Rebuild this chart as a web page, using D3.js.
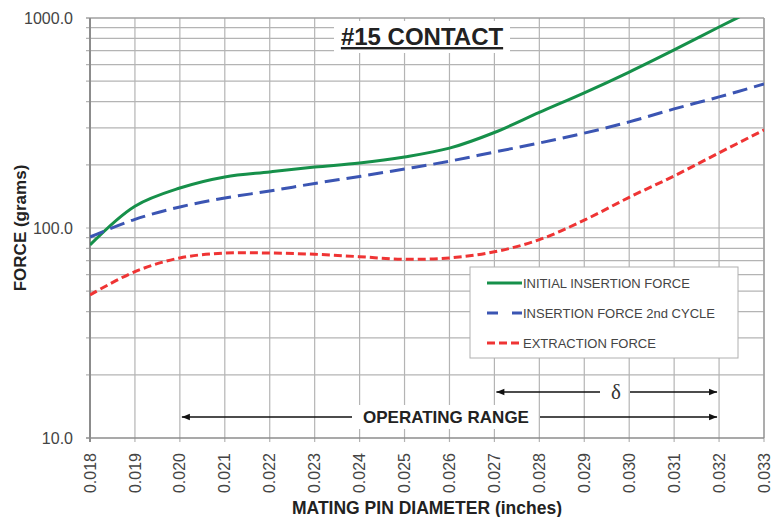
<!DOCTYPE html>
<html>
<head>
<meta charset="utf-8">
<script src="https://cdn.jsdelivr.net/npm/d3@7"></script>
<style>
  body { margin: 0; background: #fff; }
  svg { display: block; font-family: 'Liberation Sans', Arial, sans-serif; }
</style>
</head>
<body>
<svg id="chart" width="780" height="517"></svg>
<script>
// Pin diameters (inches)
const diameters = [0.018, 0.019, 0.020, 0.021, 0.022, 0.023, 0.024, 0.025, 0.026, 0.027, 0.028, 0.029, 0.030, 0.031, 0.032, 0.033];
// Forces (grams)
const initialInsertion = [83, 127, 155, 175, 185, 195, 204, 218, 240, 285, 355, 440, 553, 705, 906, 1160];
const insertion2nd     = [90.6, 110, 126, 139, 150, 163, 176, 191, 208, 230, 254, 283, 320, 369, 421, 485];
const extraction       = [48, 62, 72, 76, 76, 75, 73, 71, 72, 77, 88, 109, 140, 177, 228, 293];

const yTickValues = [10, 100, 1000];
const xTickValues = d3.range(18, 34).map(d => d / 1000);
const operatingRange = [0.020, 0.032];
const deltaRange = [0.027, 0.032];

const series = [
  { name: 'INITIAL INSERTION FORCE', values: initialInsertion, color: '#16904a', dash: null, legendDash: null },
  { name: 'INSERTION FORCE 2nd CYCLE', values: insertion2nd, color: '#3b55b3', dash: '15,7', legendDash: '11,14' },
  { name: 'EXTRACTION FORCE', values: extraction, color: '#ef3434', dash: '8,4', legendDash: '8,4' }
];

const svg = d3.select('#chart');
const W = 780, H = 517;
const margin = { top: 18, right: 16, bottom: 79, left: 90 };
const iw = W - margin.left - margin.right, ih = H - margin.top - margin.bottom;

const x = d3.scaleLinear().domain([0.018, 0.033]).range([0, iw]);
const y = d3.scaleLog().domain([10, 1000]).range([ih, 0]);

const g = svg.append('g').attr('transform', `translate(${margin.left},${margin.top})`);

svg.append('defs').append('clipPath').attr('id', 'plot-clip')
  .append('rect').attr('width', iw).attr('height', ih);

// Gridlines — every decade step on y, every 0.001 on x
const yGrid = [];
[10, 100].forEach(dec => { for (let k = 2; k <= 9; k++) yGrid.push(dec * k); });
yGrid.push(100);

g.append('g').selectAll('line').data(yGrid).enter().append('line')
  .attr('x1', -4).attr('x2', iw)
  .attr('y1', d => y(d)).attr('y2', d => y(d))
  .attr('stroke', '#b4b4b4').attr('stroke-width', 1.2);

g.append('g').selectAll('line').data(xTickValues).enter().append('line')
  .attr('x1', d => x(d)).attr('x2', d => x(d))
  .attr('y1', 0).attr('y2', ih + 4)
  .attr('stroke', '#b4b4b4').attr('stroke-width', 1.2);

// Frame: top / right light, left / bottom darker
g.append('line').attr('x1', -4).attr('x2', iw).attr('y1', 0).attr('y2', 0)
  .attr('stroke', '#a0a0a0').attr('stroke-width', 1.5);
g.append('line').attr('x1', iw).attr('x2', iw).attr('y1', 0).attr('y2', ih)
  .attr('stroke', '#a0a0a0').attr('stroke-width', 1.5);
g.append('line').attr('x1', -4).attr('x2', iw).attr('y1', ih).attr('y2', ih)
  .attr('stroke', '#8c8c8c').attr('stroke-width', 1.5);
g.append('line').attr('x1', 0).attr('x2', 0).attr('y1', 0).attr('y2', ih + 4)
  .attr('stroke', '#8c8c8c').attr('stroke-width', 2);

// Title with white backing
const titleX = 422, titleY = 45;
g.append('rect').attr('x', titleX - margin.left - 88).attr('y', 3).attr('width', 176).attr('height', 32)
  .attr('fill', '#fff');
svg.append('text').attr('x', titleX).attr('y', titleY)
  .attr('text-anchor', 'middle').attr('font-size', 24).attr('font-weight', 'bold')
  .attr('fill', '#222').attr('text-decoration', 'underline')
  .text('#15 CONTACT');

// Axis labels
svg.append('g').selectAll('text').data(yTickValues).enter().append('text')
  .attr('x', margin.left - 17).attr('y', d => margin.top + y(d))
  .attr('dy', '0.35em').attr('text-anchor', 'end')
  .attr('font-size', 16).attr('fill', '#444')
  .text(d => d3.format('.1f')(d));

svg.append('g').selectAll('text').data(xTickValues).enter().append('text')
  .attr('transform', d => `translate(${margin.left + x(d)},${margin.top + ih + 15}) rotate(-90)`)
  .attr('dy', '0.35em').attr('text-anchor', 'end')
  .attr('font-size', 16).attr('fill', '#444')
  .text(d => d3.format('.3f')(d));

svg.append('text')
  .attr('transform', `translate(26,${margin.top + y(100)}) rotate(-90)`)
  .attr('text-anchor', 'middle').attr('font-size', 17).attr('font-weight', 'bold').attr('fill', '#222')
  .text('FORCE (grams)');

svg.append('text').attr('x', 427).attr('y', 514)
  .attr('text-anchor', 'middle').attr('font-size', 17.5).attr('font-weight', 'bold').attr('fill', '#222')
  .text('MATING PIN DIAMETER (inches)');

// Curves
const line = d3.line()
  .x((d, i) => x(diameters[i]))
  .y(d => y(d))
  .curve(d3.curveCatmullRom.alpha(0.5));

const curves = g.append('g').attr('clip-path', 'url(#plot-clip)');
series.forEach(s => {
  curves.append('path').datum(s.values)
    .attr('d', line)
    .attr('fill', 'none')
    .attr('stroke', s.color)
    .attr('stroke-width', 3)
    .attr('stroke-dasharray', s.dash);
});

// Legend
const lg = svg.append('g').attr('transform', 'translate(470,267)');
lg.append('rect').attr('width', 268).attr('height', 91)
  .attr('fill', '#fff').attr('stroke', '#b0b0b0').attr('stroke-width', 1);
series.forEach((s, i) => {
  const ly = 16 + i * 30;
  lg.append('line').attr('x1', 17).attr('x2', 52).attr('y1', ly).attr('y2', ly)
    .attr('stroke', s.color).attr('stroke-width', 3)
    .attr('stroke-dasharray', s.legendDash);
  lg.append('text').attr('x', 53).attr('y', ly).attr('dy', '0.35em')
    .attr('font-size', 13).attr('fill', '#444').text(s.name);
});

// Range arrows
const defs = svg.select('defs');
defs.append('marker').attr('id', 'arrowhead')
  .attr('viewBox', '0 -5 10 10').attr('refX', 10).attr('refY', 0)
  .attr('markerWidth', 10).attr('markerHeight', 8).attr('markerUnits', 'userSpaceOnUse')
  .attr('orient', 'auto-start-reverse')
  .append('path').attr('d', 'M0,-4L10,0L0,4Z').attr('fill', '#111');

function rangeArrow(range, yPix, gapL, gapR) {
  const x0 = x(range[0]) + 2, x1 = x(range[1]) - 2;
  g.append('line').attr('x1', gapL).attr('x2', x0).attr('y1', yPix).attr('y2', yPix)
    .attr('stroke', '#111').attr('stroke-width', 1.5).attr('marker-end', 'url(#arrowhead)');
  g.append('line').attr('x1', gapR).attr('x2', x1).attr('y1', yPix).attr('y2', yPix)
    .attr('stroke', '#111').attr('stroke-width', 1.5).attr('marker-end', 'url(#arrowhead)');
}

const opY = 417 - margin.top;
g.append('rect').attr('x', 356 - margin.left).attr('y', opY - 12).attr('width', 180).attr('height', 24).attr('fill', '#fff');
rangeArrow(operatingRange, opY, 352 - margin.left, 540 - margin.left);
svg.append('text').attr('x', 446).attr('y', 417).attr('dy', '0.36em')
  .attr('text-anchor', 'middle').attr('font-size', 17).attr('font-weight', 'bold').attr('fill', '#222')
  .text('OPERATING RANGE');

const dY = 392 - margin.top;
rangeArrow(deltaRange, dY, 600 - margin.left, 630 - margin.left);
svg.append('text').attr('x', 616).attr('y', 392).attr('dy', '0.32em')
  .attr('text-anchor', 'middle').attr('font-size', 21)
  .attr('font-family', "'Liberation Serif', 'DejaVu Serif', serif").attr('fill', '#333')
  .text('δ');
</script>
</body>
</html>
